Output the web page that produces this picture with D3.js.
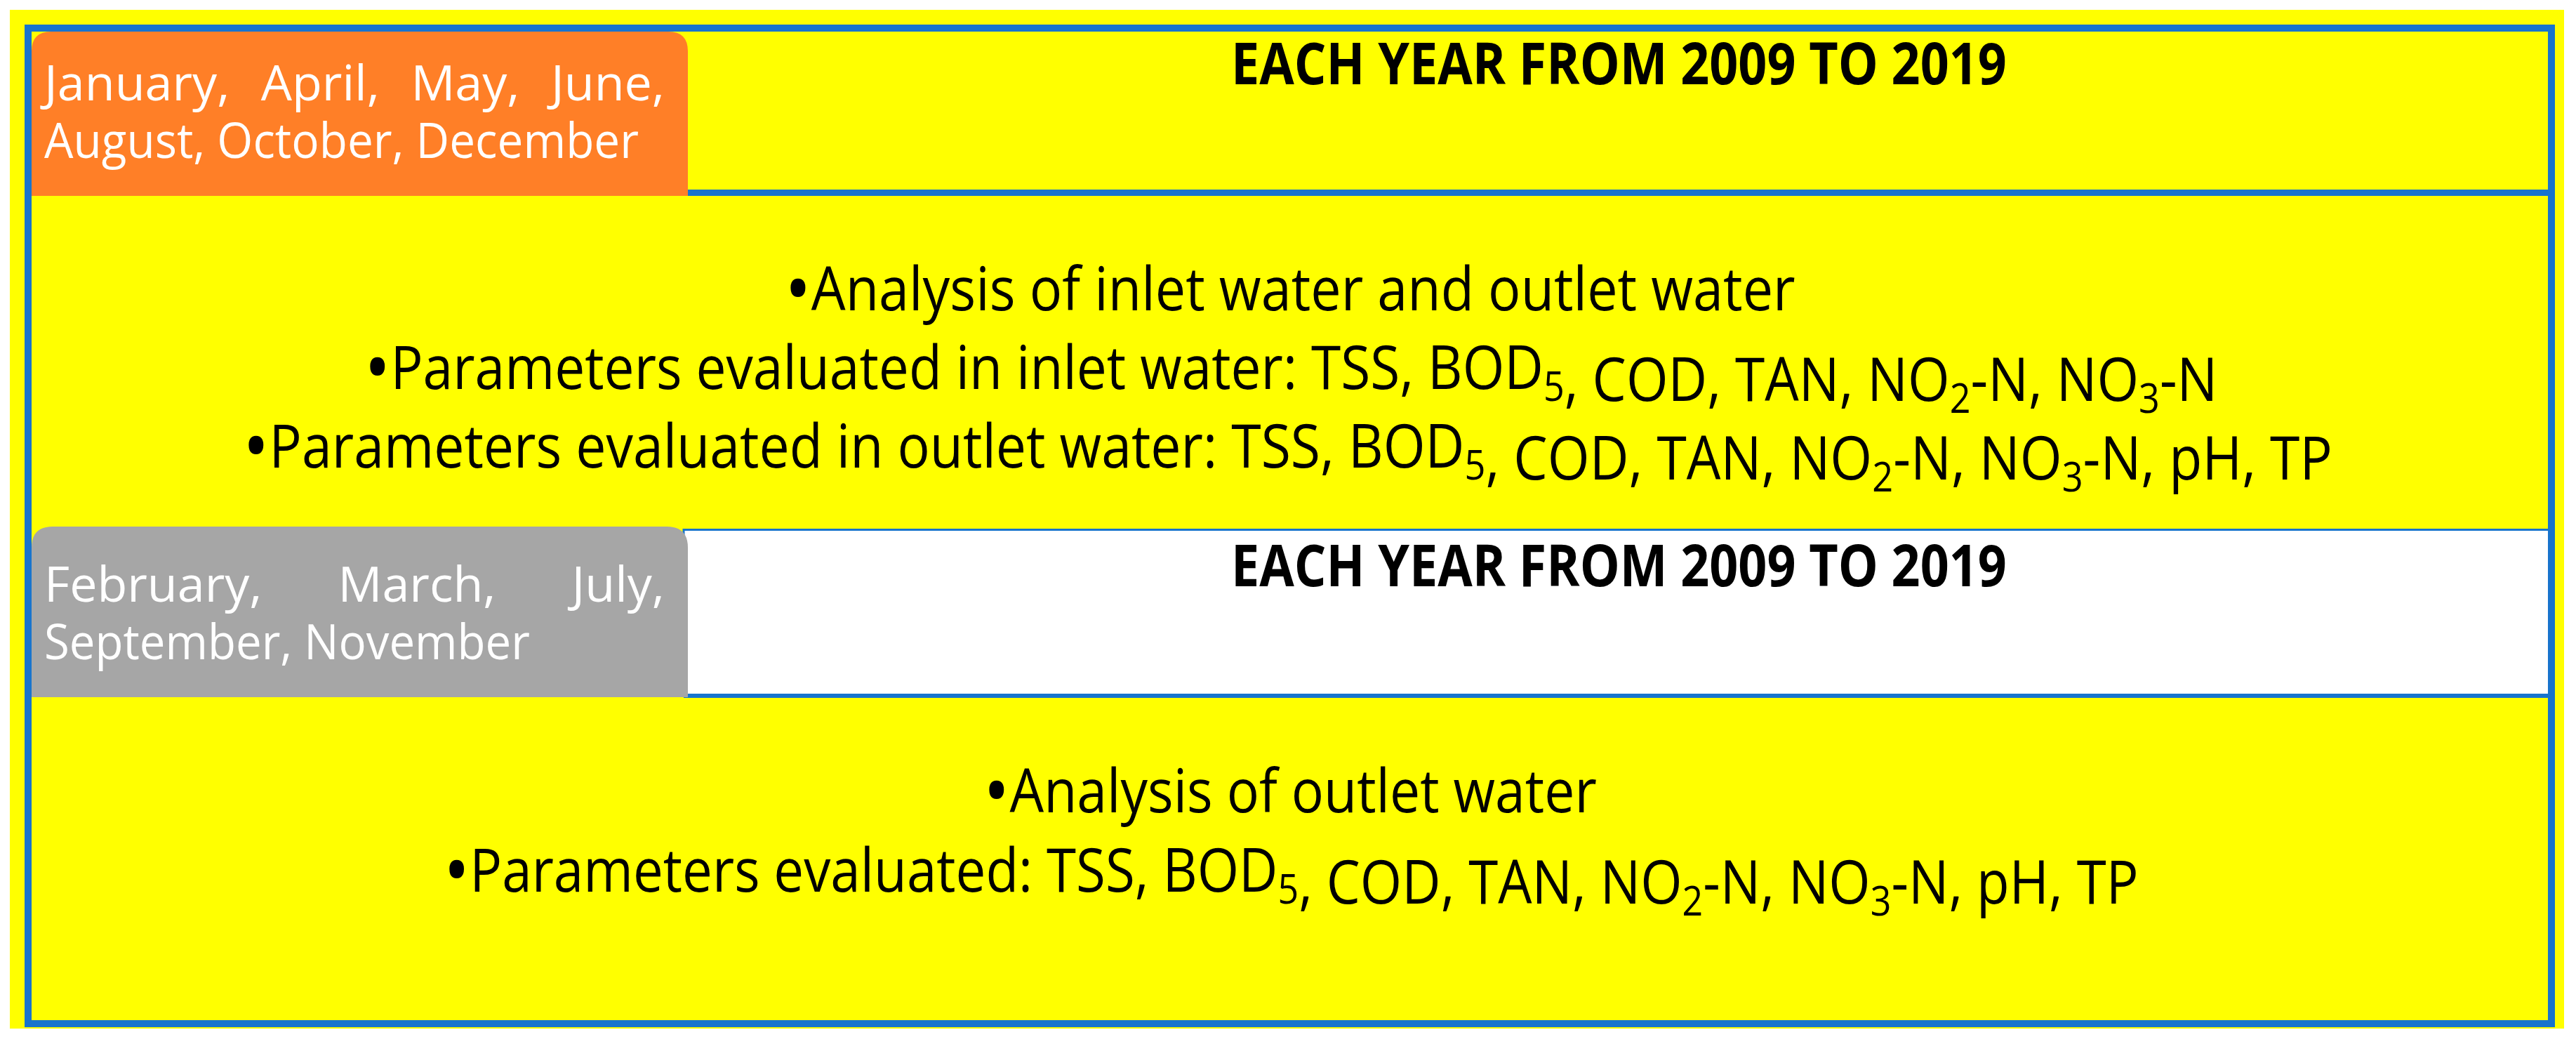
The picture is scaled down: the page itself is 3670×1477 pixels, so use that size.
<!DOCTYPE html>
<html><head><meta charset="utf-8">
<script src="https://cdn.jsdelivr.net/npm/d3@7"></script>
<style>html,body{margin:0;padding:0;background:#fff;}svg{display:block;}</style>
</head><body>
<script>
const monthsFull = ["January,", "April,", "May,", "June,", "August,", "October,", "December"];
const monthsOutlet = ["February,", "March,", "July,", "September,", "November"];
const periodTitle = "EACH YEAR FROM 2009 TO 2019";
const inletParams = ["TSS", "BOD|5", "COD", "TAN", "NO|2|-N", "NO|3|-N"];
const outletParams = ["TSS", "BOD|5", "COD", "TAN", "NO|2|-N", "NO|3|-N", "pH", "TP"];
const topLines = [
  {text: "Analysis of inlet water and outlet water"},
  {text: "Parameters evaluated in inlet water: ", params: inletParams},
  {text: "Parameters evaluated in outlet  water: ", params: outletParams}
];
const bottomLines = [
  {text: "Analysis of outlet water"},
  {text: "Parameters evaluated: ", params: outletParams}
];

const W = 3670, H = 1477;
const FONT = "'Liberation Sans Narrow','Open Sans','Liberation Sans',sans-serif";
const svg = d3.select("body").append("svg").attr("width", W).attr("height", H);
const blue = "#1874CD", yellow = "#FFFF00";

svg.append("rect").attr("x",14).attr("y",14).attr("width",3639).attr("height",1451).attr("fill",yellow);
svg.append("rect").attr("x",974).attr("y",270).attr("width",2662).attr("height",9).attr("fill",blue);
svg.append("rect").attr("x",974).attr("y",754.5).attr("width",2662).attr("height",236).attr("fill","#fff").attr("stroke",blue).attr("stroke-width",3);
svg.append("rect").attr("x",974).attr("y",988).attr("width",2662).attr("height",6).attr("fill",blue);

function topRounded(x,y,w,h,r){
  return `M${x},${y+h}V${y+r}Q${x},${y} ${x+r},${y}H${x+w-r}Q${x+w},${y} ${x+w},${y+r}V${y+h}Z`;
}
svg.append("path").attr("d",topRounded(45,45,935,234,28)).attr("fill","#FF7F27");
svg.append("path").attr("d",topRounded(45,750,935,243,30)).attr("fill","#A6A6A6");

svg.append("rect").attr("x",40).attr("y",40).attr("width",3595).attr("height",1418)
  .attr("fill","none").attr("stroke",blue).attr("stroke-width",10);

function fitX(sel, x0, x1){
  const w = sel.node().getBBox().width;
  const s = (x1-x0)/w;
  sel.attr("transform",`translate(${x0},0) scale(${s},1) translate(${-x0},0)`);
}
function line(x0,x1,y,size,bold,textParts,bullet){
  const t = svg.append("text").attr("x",x0).attr("y",y).attr("font-family",FONT)
    .attr("font-size",size).attr("font-weight",bold?"bold":"normal").attr("fill","#000");
  if(bullet) t.append("tspan").attr("font-size",size*1.3).attr("dy",size*0.1).text("•");
  t.append("tspan").attr("dy",bullet?-size*0.1:0).text(textParts.text);
  if(textParts.params){
    textParts.params.forEach((p,i)=>{
      const parts = p.split("|");
      t.append("tspan").text(parts[0]);
      if(parts.length>1){
        t.append("tspan").attr("font-size",size*0.68).attr("dy",size*0.2).text(parts[1]);
        t.append("tspan").attr("dy",-size*0.2).text(parts[2]||"");
      }
      if(i<textParts.params.length-1) t.append("tspan").text(", ");
    });
  }
  fitX(t,x0,x1);
}
function justify(words,x0,x1,y,size){
  const ts = words.map(w=>svg.append("text").attr("y",y).attr("font-family",FONT).attr("font-size",size).attr("fill","#fff").text(w));
  const widths = ts.map(t=>t.node().getComputedTextLength());
  const sum = d3.sum(widths);
  let scale = 1, gap = (x1-x0-sum)/(words.length-1);
  if(gap<16){ gap=16; scale=(x1-x0-gap*(words.length-1))/sum; }
  let x=x0;
  ts.forEach((t,i)=>{
    const w = widths[i]*scale;
    t.attr("x",x).attr("textLength",w).attr("lengthAdjust","spacingAndGlyphs");
    x+=w+gap;
  });
}
function plain(words,x0,x1,y,size){
  svg.append("text").attr("x",x0).attr("y",y).attr("font-family",FONT).attr("font-size",size).attr("fill","#fff")
    .attr("textLength",x1-x0).attr("lengthAdjust","spacingAndGlyphs").text(words.join(" "));
}

justify(monthsFull.slice(0,4),63,947,143,70);
plain(monthsFull.slice(4),63,910,225,70);
justify(monthsOutlet.slice(0,3),63,947,857,70);
plain(monthsOutlet.slice(3),63,755,939,70);

line(1754,2859,120,82,true,{text:periodTitle},false);
line(1754,2859,835,82,true,{text:periodTitle},false);

const topX = [[1118,2558],[519,3160],[346,3323]];
const topY = [442,554,666];
topLines.forEach((l,i)=>line(topX[i][0],topX[i][1],topY[i],86,false,l,true));
const botX = [[1401,2275],[632,3047]];
const botY = [1157,1270];
bottomLines.forEach((l,i)=>line(botX[i][0],botX[i][1],botY[i],86,false,l,true));
</script>
</body></html>
